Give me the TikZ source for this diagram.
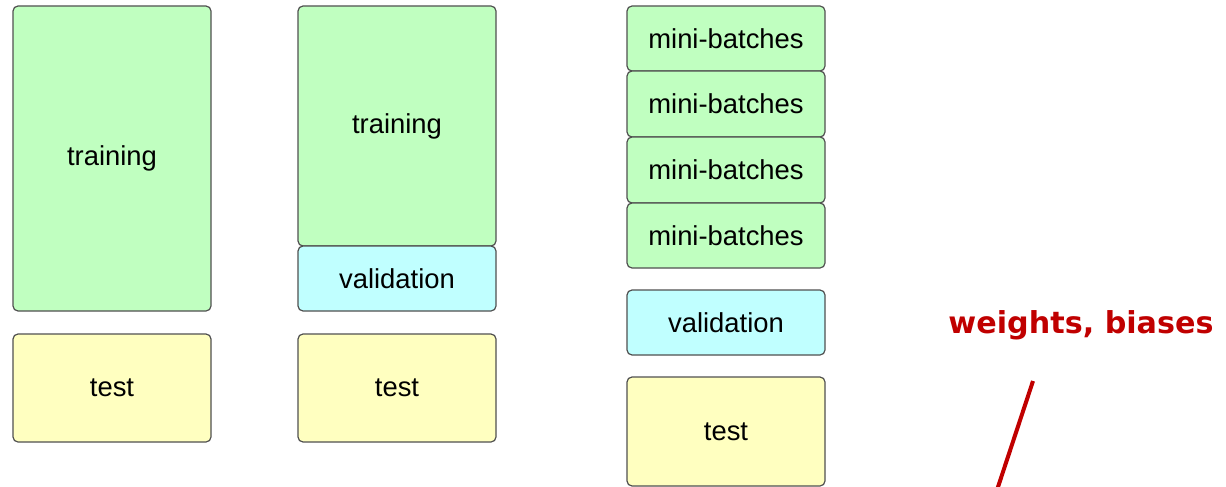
\documentclass[tikz,border=0pt]{standalone}
\usepackage{fontspec}
\setmainfont{Liberation Sans}
\newfontfamily\labelfont{DejaVu Sans}
\definecolor{traingreen}{HTML}{C0FFC0}
\definecolor{valcyan}{HTML}{C0FFFF}
\definecolor{testyellow}{HTML}{FFFFC0}
\definecolor{edgegray}{HTML}{505050}
\definecolor{notered}{HTML}{C00000}
\tikzset{
  block/.style={draw=edgegray, line width=1.2pt, rounded corners=5pt,
    minimum width=198pt, inner sep=0pt, outer sep=0pt,
    font=\fontsize{27.4}{32}\selectfont, text=black},
  trainblock/.style={block, fill=traingreen},
  valblock/.style={block, fill=valcyan},
  testblock/.style={block, fill=testyellow},
}
\begin{document}
\begin{tikzpicture}[x=1pt, y=-1pt]
\useasboundingbox (0,0) rectangle (1226,487);
% column 1: training / test
\node[trainblock, minimum height=305pt] (tr1) at (112,158.5) {training};
\node[testblock, minimum height=108pt] (te1) at (112,388) {test};
% column 2: training / validation / test
\node[trainblock, minimum height=240pt] (tr2) at (397,126) {training};
\node[valblock, minimum height=65pt] (va2) at (397,278.5) {validation};
\node[testblock, minimum height=108pt] (te2) at (397,388) {test};
% column 3: mini-batches / validation / test
\node[trainblock, minimum height=65pt] (mb1) at (726,38.5) {mini-batches};
\node[trainblock, minimum height=66pt] (mb2) at (726,104) {mini-batches};
\node[trainblock, minimum height=66pt] (mb3) at (726,170) {mini-batches};
\node[trainblock, minimum height=65pt] (mb4) at (726,235.5) {mini-batches};
\node[valblock, minimum height=65pt] (va3) at (726,322.5) {validation};
\node[testblock, minimum height=109pt] (te3) at (726,431.5) {test};
% annotation
\node[font=\labelfont\bfseries\fontsize{30.2}{35}\selectfont, text=notered,
  anchor=base, inner sep=0pt] (wb) at (1081,333) {weights, biases};
\coordinate (ltop) at (1033,381);
\coordinate (lbot) at (997,490);
\draw[notered, line width=4pt] (ltop) -- (lbot);
\end{tikzpicture}
\end{document}
